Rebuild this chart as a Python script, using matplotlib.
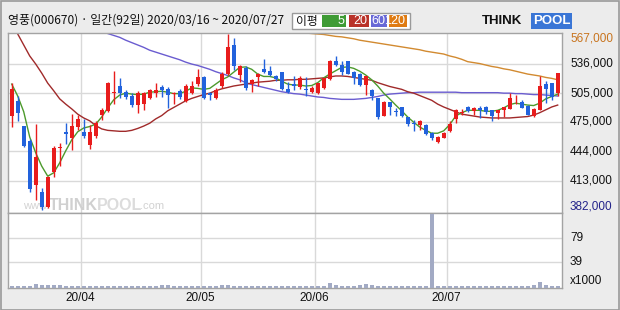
import matplotlib
matplotlib.use('Agg')
import matplotlib.pyplot as plt
from matplotlib.patches import Rectangle
import matplotlib.transforms as mtransforms

plt.rcParams['font.family'] = ['Noto Sans CJK KR', 'DejaVu Sans']

# ---------------- data ----------------
title = '영풍(000670) · 일간(92일) 2020/03/16 ~ 2020/07/27'
legend_label = '이평'
ma_names = ['5', '20', '60', '120']

opens = [481000, 496500, 470500, 455000, 409000, 401000, 385500, 422000, 447000, 464000,
         458000, 470000, 464000, 451000, 460000, 482500, 486500, 505500, 512000, 506500,
         502500, 493000, 493500, 499500, 505500, 511500, 509000, 504000, 507500, 496500,
         505500, 515000, 521500, 505000, 499500, 512500, 525500, 555000, 524500, 531000,
         514500, 522000, 530000, 528500, 523000, 527000, 509500, 514500, 511500, 508500,
         506500, 505500, 510000, 519500, 538500, 534500, 538500, 527000, 525500, 513500,
         508500, 499500, 481500, 495500, 485500, 490500, 480000, 473000, 472000, 472000,
         463000, 453500, 458500, 465000, 478000, 484500, 490500, 486500, 489500, 490500,
         487000, 484000, 487000, 488500, 501500, 495500, 492000, 481500, 487500, 515000,
         515500, 505000]
highs = [516000, 501500, 471000, 456500, 472500, 405500, 418000, 449500, 452500, 474000,
         483500, 482500, 477500, 472000, 475500, 489500, 516500, 528500, 520500, 508500,
         505000, 507000, 506000, 509500, 515500, 513500, 511500, 506000, 509500, 515000,
         518000, 530000, 523500, 506500, 510500, 527000, 567000, 562500, 534000, 533000,
         520000, 526000, 540500, 533500, 524000, 527500, 517000, 522500, 523000, 521500,
         512000, 516000, 521000, 540000, 544000, 539000, 539000, 528500, 526000, 523500,
         509000, 500000, 496500, 496000, 489500, 491000, 480500, 477000, 477000, 472500,
         464000, 460000, 464000, 475500, 488500, 488000, 491500, 490500, 492000, 492000,
         487500, 487500, 491000, 505000, 503500, 498000, 492500, 489000, 522500, 517500,
         516000, 526500]
lows = [469500, 475500, 449000, 401500, 392500, 382000, 385000, 417000, 429000, 451500,
        445000, 466000, 458500, 446000, 458000, 476500, 485500, 494000, 499500, 499000,
        490000, 484500, 487000, 499000, 501000, 501000, 489000, 493500, 499000, 495500,
        504500, 512000, 499000, 497500, 499000, 510500, 524500, 529500, 516500, 508000,
        506500, 512500, 526000, 522500, 517500, 508000, 505000, 508000, 509000, 502000,
        505000, 504500, 509000, 519000, 533000, 524500, 525000, 514500, 512000, 503000,
        497500, 478000, 481000, 482500, 481500, 480500, 471000, 465000, 466500, 461500,
        456000, 453000, 458000, 464500, 473500, 482000, 485500, 482500, 479000, 483500,
        475500, 478000, 480000, 488000, 494000, 489000, 482000, 480500, 487000, 494500,
        498000, 502000]
closes = [509000, 484000, 450000, 405000, 438000, 386000, 417500, 447500, 448500, 462500,
          470500, 478000, 460500, 464000, 473500, 487000, 516000, 506500, 505500, 501000,
          493000, 505500, 505500, 508000, 508000, 508500, 503500, 505500, 500500, 512500,
          512500, 521500, 499500, 503000, 508000, 525000, 553000, 533000, 533000, 510000,
          519000, 525500, 527500, 524000, 519500, 509500, 506000, 512000, 521000, 508000,
          510500, 515500, 520500, 539000, 534000, 527000, 525500, 520500, 513500, 523000,
          502500, 479500, 496000, 491000, 485000, 481000, 473000, 472500, 475500, 462500,
          458000, 459500, 463500, 473000, 487000, 485500, 486500, 489000, 487000, 485500,
          481500, 487000, 490500, 499500, 502000, 489500, 482500, 488500, 513000, 509500,
          501000, 526000]
volume_k = [2.2, 2.5, 2.6, 2.8, 6.0, 3.8, 3.5, 3.6, 3.2, 2.5,
            2.4, 2.6, 2.3, 2.5, 2.4, 2.6, 2.5, 2.3, 2.4, 2.6,
            2.0, 1.8, 2.1, 1.9, 2.2, 4.0, 3.5, 2.5, 2.3, 2.6,
            2.4, 2.5, 2.8, 2.6, 2.4, 3.5, 4.5, 2.2, 2.0, 2.1,
            1.9, 2.0, 2.2, 2.1, 2.0, 1.9, 2.3, 3.0, 2.0, 2.1,
            1.9, 2.2, 2.4, 6.5, 3.2, 3.0, 2.8, 3.0, 4.5, 4.8,
            4.2, 2.6, 2.4, 2.5, 2.3, 2.6, 2.4, 2.5, 2.2, 2.6,
            116, 3.0, 2.6, 2.4, 2.8, 2.5, 2.3, 2.6, 2.4, 2.7,
            2.5, 2.3, 3.0, 2.6, 2.4, 2.8, 2.5, 3.2, 8.0, 3.2,
            3.0, 3.0]

# moving averages (thousand won); first index of each line
ma5_start = 0
ma5 = [514.5, 502, 485.5, 459, 442.5, 428.5, 418, 421.5, 432, 444.5,
       456, 464.5, 468.5, 470, 472.5, 480, 489.5, 498, 503, 505,
       504, 503.5, 504, 506, 506.5, 507, 506, 504.5, 504.5, 507,
       510.5, 510, 509, 510, 514.5, 519, 522, 527, 532, 532.5,
       530, 525, 522.5, 522.5, 521, 517.5, 514.5, 513.5, 513.5, 512.5,
       513, 516, 521, 525, 528.5, 532, 532.5, 531, 528, 524,
       519, 512.5, 505, 499, 492.5, 486.5, 480, 474.5, 469.5, 466,
       463, 463, 465.5, 472, 481, 484.5, 487, 487, 487, 486,
       486, 487, 489.5, 493, 494.5, 493.5, 492.5, 492, 494.5, 499,
       501.5, 504]
ma20_start = 1
ma20 = [567, 555.5, 544, 535.5, 526, 515.5, 507.5, 499, 493.5, 488.5,
        483, 479, 476, 471, 467.5, 466, 465.5, 465, 465, 466,
        468, 470.5, 473.5, 478, 481.5, 486.5, 490, 493.5, 497, 499.5,
        501.5, 503.5, 505, 507.5, 509.5, 511, 512.5, 513.5, 514.5, 515.5,
        516.5, 517, 517.5, 518.5, 518.5, 519, 519, 519.5, 519.5, 520,
        520.5, 521, 522, 523, 523, 522.5, 521.5, 520.5, 519.5, 518.5,
        516, 514, 512, 510.5, 509, 506.5, 505, 502.5, 500, 497.5,
        493.5, 490.5, 488, 485.5, 483, 482, 481, 480, 479.5, 479,
        479, 479, 479, 479.5, 480, 480.5, 482, 484.5, 487.5, 490.5,
        492.5]
ma60_start = 16
ma60 = [567.5, 565.5, 563.5, 560.5, 558, 555.5, 553, 550, 548, 546,
        544, 542, 540, 537.5, 535.5, 534, 532, 530, 527.5, 525.5,
        523.5, 521, 519, 516, 514, 512.5, 511, 509.5, 508, 506.5,
        505.5, 504.5, 504, 503, 502, 501, 500.5, 499.5, 499, 498.5,
        498.5, 498.5, 499, 499.5, 500.5, 501.5, 503, 504, 504.5, 505,
        505.5, 505.5, 506, 506, 506, 506, 506, 506, 506, 505.5,
        505.5, 505.5, 505.5, 505.5, 505.5, 505.5, 505, 505, 504.5, 504.5,
        504, 503.5, 503.5, 503, 502.5, 502]
ma120_start = 49
ma120 = [568, 567.5, 567, 566.5, 565.5, 564.5, 564, 563, 562, 560.5,
         559.5, 558.5, 557.5, 556.5, 555.5, 554.5, 553.5, 552.5, 551.5, 550.5,
         549, 548, 547, 546, 544, 542.5, 540.5, 538, 537, 536,
         534.5, 533, 532, 530.5, 529.5, 528, 526.5, 525, 524, 523,
         521.5, 520.5, 519]

price_labels = [567000, 536000, 505000, 475000, 444000, 413000, 382000]
vol_labels = [79, 39]
vol_unit = 'x1000'
month_labels = ['20/04', '20/05', '20/06', '20/07']
month_first_idx = [12, 32, 51, 73]

# ---------------- style ----------------
W, H = 620, 310
RED, BLUE = '#e81c1c', '#2262dc'
MA_COLORS = ['#4c9a2c', '#a02a2a', '#6a5cd0', '#d28a30']
BOX_COLORS = ['#3f9b35', '#b93229', '#6868d6', '#df7b12']
GRID = '#d9d9d9'
EDGE = '#a3a3a3'
NUMFONT = ['Liberation Sans', 'DejaVu Sans']

fig = plt.figure(figsize=(W / 100, H / 100), dpi=100)
fig.patch.set_facecolor('#ececec')
fig.patches.append(Rectangle((0.5 / W, 0.5 / H), 1 - 1.5 / W, 1 - 1.5 / H,
                             transform=fig.transFigure, fill=False,
                             edgecolor='#9a9a9a', lw=1.2))

def fx(px):
    return px / W

def fy(py):
    return 1 - py / H

L, R = 8, 562
T1, B1, B2 = 33, 212.5, 287.5
ax = fig.add_axes([fx(L), fy(B1), (R - L) / W, (B1 - T1) / H])
axv = fig.add_axes([fx(L), fy(B2), (R - L) / W, (B2 - B1) / H], sharex=ax)

n = len(closes)
idx = list(range(n))
for a in (ax, axv):
    a.set_facecolor('white')
    for s in a.spines.values():
        s.set_color(EDGE)
        s.set_linewidth(1.0)
    a.tick_params(left=False, right=False, bottom=False, top=False,
                  labelleft=False, labelbottom=False)
    for m in month_first_idx:
        a.axvline(m - 0.5, color=GRID, lw=1.0, zorder=0)

ax.set_xlim(-0.62, n - 0.28)
ax.set_ylim(379900, 568050)
for p in price_labels[1:-1]:
    ax.axhline(p, color=GRID, lw=1.0, zorder=0)

# watermark
ax.text(0.027, 0.022, 'www.', transform=ax.transAxes, color='#d2d2d2',
        fontsize=8, family=NUMFONT, zorder=1)
ax.text(0.074, 0.012, 'THINK', transform=ax.transAxes, color='#d0d0d0',
        fontsize=11.5, weight='bold', family=NUMFONT, zorder=1)
ax.text(0.16, 0.012, 'POOL', transform=ax.transAxes, color='#dcdcdc',
        fontsize=11.5, weight='bold', family=NUMFONT, zorder=1)
ax.text(0.238, 0.022, '.com', transform=ax.transAxes, color='#d2d2d2',
        fontsize=8, family=NUMFONT, zorder=1)

# moving averages
for start, vals, col in ((ma120_start, ma120, MA_COLORS[3]),
                         (ma60_start, ma60, MA_COLORS[2]),
                         (ma20_start, ma20, MA_COLORS[1]),
                         (ma5_start, ma5, MA_COLORS[0])):
    xs = [start + k for k in range(len(vals))]
    ax.plot(xs, [v * 1000 for v in vals], color=col, lw=1.0, zorder=2)

# candles
for i in idx:
    o, h, l, c = opens[i], highs[i], lows[i], closes[i]
    col = RED if c >= o else BLUE
    ax.vlines(i, l, h, color=col, lw=1.0, zorder=3)
    body = max(abs(c - o), 1000)
    ax.bar(i, body, bottom=min(o, c), width=0.72, color=col, lw=0, zorder=4)

# volume
axv.set_ylim(0, 119)
for v in (39.67, 79.33):
    axv.axhline(v, color=GRID, lw=1.0, zorder=0)
axv.bar(idx, volume_k, width=0.72, color='#a2aac4', lw=0, zorder=3)

# right-side labels
tr = mtransforms.blended_transform_factory(ax.transAxes, ax.transData)
xoff = 1 + 8 / (R - L)
for k, p in enumerate(price_labels):
    col = '#c8741e' if k == 0 else ('#22228a' if k == len(price_labels) - 1 else '#111111')
    va = 'top' if k == 0 else ('bottom' if k == len(price_labels) - 1 else 'center')
    yv = p + (1200 if k == 0 else (-2500 if k == len(price_labels) - 1 else 0))
    ax.text(xoff, yv, f'{p:,}', transform=tr, color=col, fontsize=8.5,
            va=va, ha='left', family=NUMFONT, clip_on=False)
trv = mtransforms.blended_transform_factory(axv.transAxes, axv.transData)
axv.text(xoff, 79.33, str(vol_labels[0]), transform=trv, fontsize=8.5, va='center',
         family=NUMFONT, color='#111111')
axv.text(xoff, 39.67, str(vol_labels[1]), transform=trv, fontsize=8.5, va='center',
         family=NUMFONT, color='#111111')
axv.text(xoff, 0.5, vol_unit, transform=trv, fontsize=8.5, va='bottom',
         family=NUMFONT, color='#111111')

# month labels
trx = mtransforms.blended_transform_factory(axv.transData, axv.transAxes)
for m, lab in zip(month_first_idx, month_labels):
    axv.text(m - 0.5, -10.5 / (B2 - B1), lab, transform=trx, ha='center', va='center',
             fontsize=8.5, family=NUMFONT, color='#111111')

# title
fig.text(fx(8), fy(20.5), title, fontsize=8.6, va='center', ha='left', color='#111111')

# legend box
fig.patches.append(Rectangle((fx(292), fy(29)), 118 / W, 16 / H, transform=fig.transFigure,
                             facecolor='white', edgecolor='#9a9a9a', lw=1.0))
fig.text(fx(296), fy(21), legend_label, fontsize=8.5, va='center', ha='left', color='#111111')
boxes = [(322, 346), (349, 369), (371, 387), (389, 407)]
for (x0, x1), col, name in zip(boxes, BOX_COLORS, ma_names):
    fig.patches.append(Rectangle((fx(x0), fy(27)), (x1 - x0) / W, 11.5 / H,
                                 transform=fig.transFigure, facecolor=col, lw=0))
    fig.text(fx(x1 - 1.5), fy(21.3), name, fontsize=9, color='white', va='center',
             ha='right', family=NUMFONT)

# logo
fig.text(fx(482), fy(21), 'THINK', fontsize=9.5, weight='bold', color='#111111',
         va='center', ha='left', family=NUMFONT)
fig.text(fx(533), fy(21), 'POOL', fontsize=9.5, weight='bold', color='white',
         va='center', ha='left', family=NUMFONT,
         bbox=dict(boxstyle='square,pad=0.12', facecolor='#3a76d6', edgecolor='none'))

fig.savefig('out.png', dpi=100, facecolor=fig.get_facecolor())
